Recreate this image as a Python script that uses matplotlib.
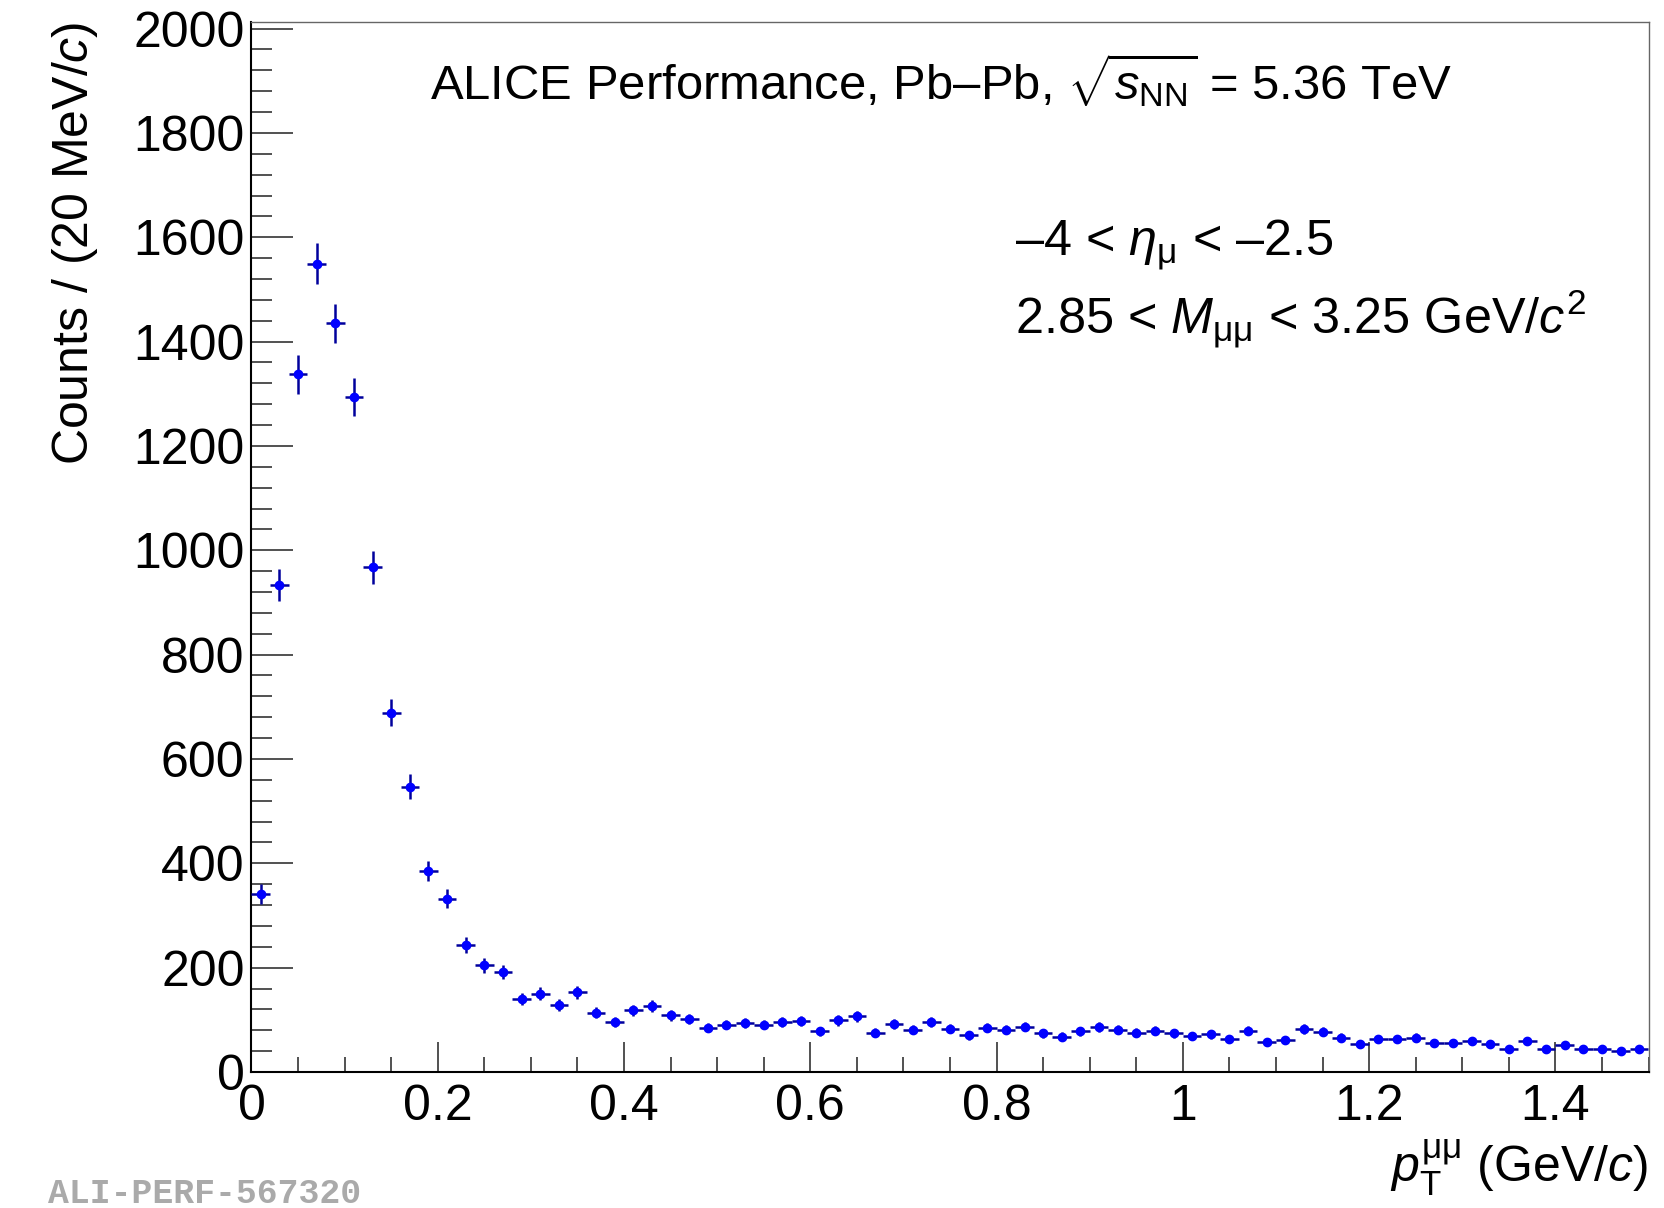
"""
ALICE performance plot: dimuon pT spectrum in the J/psi mass window (Pb-Pb 5.36 TeV)
"""

import numpy as np
import matplotlib
matplotlib.use('Agg')
import matplotlib.pyplot as plt
from matplotlib.ticker import MultipleLocator

plt.rcParams['font.family'] = ['Liberation Sans', 'DejaVu Sans']
plt.rcParams['mathtext.fontset'] = 'custom'
plt.rcParams['mathtext.rm'] = 'Liberation Sans'
plt.rcParams['mathtext.it'] = 'Liberation Sans:italic'
plt.rcParams['mathtext.bf'] = 'Liberation Sans:bold'

# ---- data ----
bin_width = 0.02  # GeV/c
pt_centers = np.arange(0.01, 1.5, bin_width)

counts = [341, 933, 1337, 1549, 1435, 1294, 967, 689, 547, 385,
          332, 243, 205, 192, 140, 150, 128, 153, 114, 96,
          118, 127, 109, 102, 85,
          91, 93, 91, 96, 98, 78, 99, 107, 75, 92,
          81, 96, 83, 70, 85, 81, 87, 74, 68, 78,
          86, 81, 75, 79, 74,
          69, 72, 63, 79, 57, 61, 82, 77, 66, 54,
          63, 63, 66, 56, 56, 59, 54, 45, 59, 44,
          51, 45, 44, 41, 44]

count_err = [18.5, 30.5, 36.6, 39.4, 37.9, 36.0, 31.1, 26.2, 23.4, 19.6,
             18.2, 15.6, 14.3, 13.9, 11.8, 12.2, 11.3, 12.4, 10.7, 9.8,
             10.9, 11.3, 10.4, 10.1, 9.2,
             9.5, 9.6, 9.5, 9.8, 9.9, 8.8, 9.9, 10.3, 8.7, 9.6,
             9.0, 9.8, 9.1, 8.4, 9.2, 9.0, 9.3, 8.6, 8.2, 8.8,
             9.3, 9.0, 8.7, 8.9, 8.6,
             8.3, 8.5, 7.9, 8.9, 7.5, 7.8, 9.1, 8.8, 8.1, 7.3,
             7.9, 7.9, 8.1, 7.5, 7.5, 7.7, 7.3, 6.7, 7.7, 6.6,
             7.1, 6.7, 6.6, 6.4, 6.6]

W, H = 1665, 1208
fig = plt.figure(figsize=(W / 100, H / 100), dpi=100)
ax = fig.add_axes([251.5 / W, 1 - 1072 / H, (1648.5 - 251.5) / W, (1072 - 22.3) / H])

ax.errorbar(pt_centers, counts, xerr=bin_width / 2, yerr=count_err, fmt='o',
            ms=6, mfc='#0000ff', mec='#0000ff', ecolor='#00009c',
            elinewidth=1.8, capsize=0, zorder=3)

ax.set_xlim(0, 1.5)
ax.set_ylim(0, 2012)

ax.xaxis.set_major_locator(MultipleLocator(0.2))
ax.xaxis.set_minor_locator(MultipleLocator(0.05))
ax.yaxis.set_major_locator(MultipleLocator(200))
ax.yaxis.set_minor_locator(MultipleLocator(40))
ax.xaxis.set_major_formatter(plt.FuncFormatter(lambda v, p: f'{v:g}'))

ax.tick_params(which='both', direction='in', top=False, right=False,
               width=1.1, color='#222222', labelsize=36)
ax.tick_params(axis='y', which='major', length=30, pad=5)
ax.tick_params(axis='y', which='minor', length=15)
ax.tick_params(axis='x', which='major', length=21.6, pad=9)
ax.tick_params(axis='x', which='minor', length=10.8)

for side in ['left', 'bottom']:
    ax.spines[side].set_linewidth(1.5)
    ax.spines[side].set_color('black')
for side in ['top', 'right']:
    ax.spines[side].set_linewidth(1.0)
    ax.spines[side].set_color('#666666')

# axis titles
fig.text(75 / W, 1 - 22 / H, 'Counts / (20 MeV/$c$)', rotation=90,
         ha='center', va='top', fontsize=36)
fig.text(1648 / W, 1 - 1182 / H, r'$p_{\mathrm{T}}^{\mathrm{μμ}}$ (GeV/$c$)',
         ha='right', va='baseline', fontsize=36)

# annotations
fig.text(430 / W, 1 - 99 / H,
         r'ALICE Performance, Pb–Pb, $\sqrt{s_{\mathrm{NN}}}$ = 5.36 TeV',
         ha='left', va='baseline', fontsize=35.3)
fig.text(1015 / W, 1 - 255 / H, r'–4 < $η_{\mathrm{μ}}$ < –2.5',
         ha='left', va='baseline', fontsize=36.3)
fig.text(1015 / W, 1 - 333 / H, r'2.85 < $M_{\mathrm{μμ}}$ < 3.25 GeV/$c^{2}$',
         ha='left', va='baseline', fontsize=36.3)

# plot ID
fig.text(48 / W, 1 - 1203 / H, 'ALI-PERF-567320', family='Liberation Mono',
         fontweight='bold', fontsize=25, color='#aaaaaa', ha='left', va='baseline')

fig.savefig('out.png', dpi=100)
